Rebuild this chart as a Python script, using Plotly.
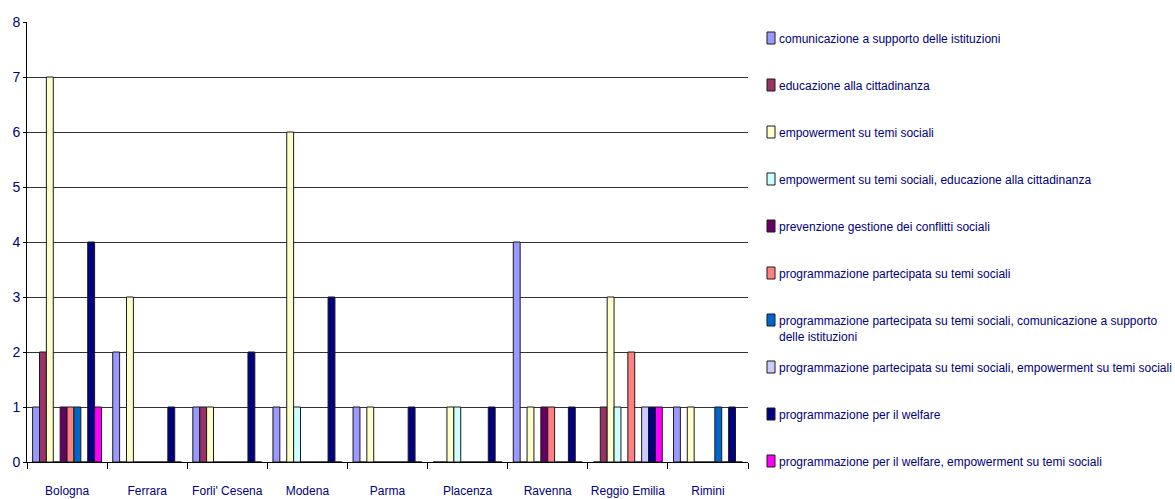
import plotly.graph_objects as go

categories = ["Bologna", "Ferrara", "Forli' Cesena", "Modena", "Parma",
              "Placenza", "Ravenna", "Reggio Emilia", "Rimini"]

series_names = [
    "comunicazione a supporto delle istituzioni",
    "educazione alla cittadinanza",
    "empowerment su temi sociali",
    "empowerment su temi sociali, educazione alla cittadinanza",
    "prevenzione gestione dei conflitti sociali",
    "programmazione partecipata su temi sociali",
    "programmazione partecipata su temi sociali, comunicazione a supporto<br>delle istituzioni",
    "programmazione partecipata su temi sociali, empowerment su temi sociali",
    "programmazione per il welfare",
    "programmazione per il welfare, empowerment su temi sociali",
]

comunicazione = [1, 2, 1, 1, 1, 0, 4, 0, 1]
educazione = [2, 0, 1, 0, 0, 0, 0, 1, 0]
empowerment = [7, 3, 1, 6, 1, 1, 1, 3, 1]
empowerment_educazione = [0, 0, 0, 1, 0, 1, 0, 1, 0]
prevenzione = [1, 0, 0, 0, 0, 0, 1, 0, 0]
prog_partecipata = [1, 0, 0, 0, 0, 0, 1, 2, 0]
prog_part_comunicazione = [1, 0, 0, 0, 0, 0, 0, 0, 1]
prog_part_empowerment = [0, 0, 0, 0, 0, 0, 0, 1, 0]
prog_welfare = [4, 1, 2, 3, 1, 1, 1, 1, 1]
prog_welfare_empowerment = [1, 0, 0, 0, 0, 0, 0, 1, 0]

values = [comunicazione, educazione, empowerment, empowerment_educazione,
          prevenzione, prog_partecipata, prog_part_comunicazione,
          prog_part_empowerment, prog_welfare, prog_welfare_empowerment]

colors = ["#9999FF", "#993366", "#FFFFCC", "#CCFFFF", "#660066",
          "#FF8080", "#0066CC", "#CCCCFF", "#000080", "#FF00FF"]

FONT = "Liberation Sans, Arial, sans-serif"
NAVY = "#000080"

fig = go.Figure()
for name, vals, col in zip(series_names, values, colors):
    fig.add_trace(go.Bar(
        x=categories, y=vals, name=name,
        marker=dict(color=col, line=dict(color="#1a1a1a", width=1)),
        showlegend=False,
    ))

# Layout geometry (pixels)
W, H = 1175, 499
L, R, T, B = 27, 427, 22, 37
pw, ph = W - L - R, H - T - B

def px_to_paper_x(px):
    return (px - L) / pw

def px_to_paper_y(py):
    return (H - B - py) / ph

shapes = []
annotations = []
legend_top = 38
legend_step = 47
for i, (name, col) in enumerate(zip(series_names, colors)):
    cy = legend_top + i * legend_step
    shapes.append(dict(
        type="rect", xref="paper", yref="paper",
        x0=px_to_paper_x(767), x1=px_to_paper_x(775),
        y0=px_to_paper_y(cy + 6), y1=px_to_paper_y(cy - 6),
        fillcolor=col, line=dict(color="#1a1a1a", width=1),
    ))
    annotations.append(dict(
        xref="paper", yref="paper",
        x=px_to_paper_x(777), y=px_to_paper_y(cy - 8),
        xanchor="left", yanchor="top", align="left",
        text=name, showarrow=False,
        font=dict(family=FONT, size=12, color=NAVY),
    ))

fig.update_layout(
    width=W, height=H,
    margin=dict(l=L, r=R, t=T, b=B, pad=0, autoexpand=False),
    paper_bgcolor="white", plot_bgcolor="white",
    barmode="group", bargap=0.14, bargroupgap=0,
    font=dict(family=FONT, color=NAVY, size=12),
    shapes=shapes, annotations=annotations,
    showlegend=False,
)
fig.update_xaxes(
    automargin=False, tickangle=0,
    showline=True, linecolor="black", linewidth=1,
    ticks="outside", tickson="boundaries", ticklen=6, tickcolor="black",
    ticklabelstandoff=18,
    showgrid=False, tickfont=dict(family=FONT, size=12, color=NAVY),
)
fig.update_yaxes(
    automargin=False,
    range=[0, 8], dtick=1, showline=True, linecolor="black", linewidth=1,
    ticks="outside", ticklen=3, tickcolor="black",
    showgrid=True, gridcolor="#333333", gridwidth=1,
    zeroline=False, tickfont=dict(family=FONT, size=14, color=NAVY),
)

fig.write_html(
    "out.html",
    config={"displayModeBar": False},
    post_script="document.body.style.margin='0';document.body.style.overflow='hidden';",
)
